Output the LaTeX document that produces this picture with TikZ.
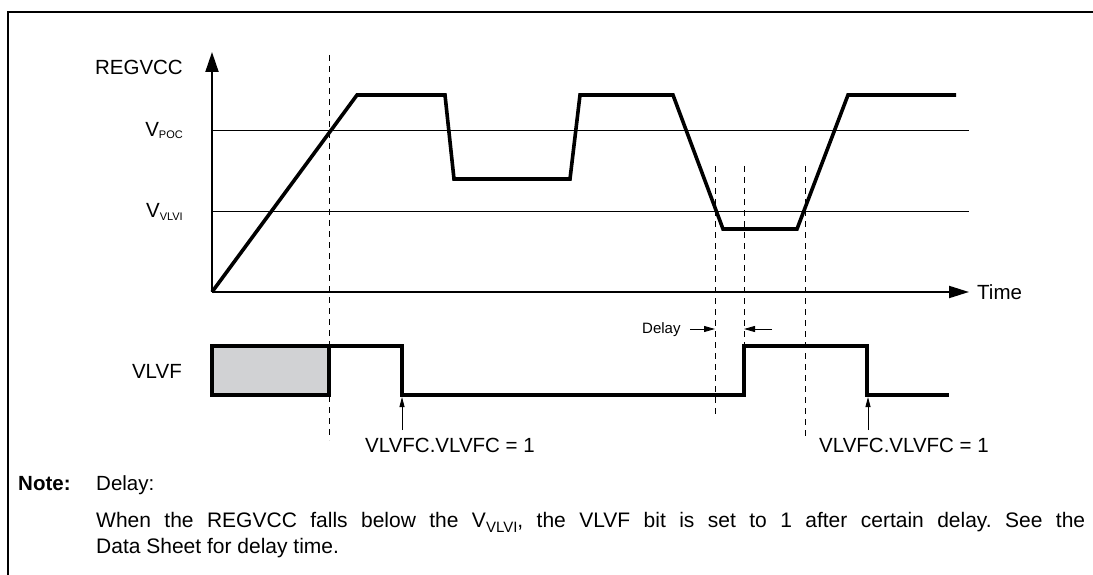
\documentclass[tikz,border=0pt]{standalone}
\usepackage{fontspec}
\setmainfont{Liberation Sans}
\usetikzlibrary{arrows.meta}
\definecolor{vlvfgray}{HTML}{D1D2D4}

\newcommand{\subvolt}[2]{V\raisebox{-#2}{\fontsize{11}{11}\selectfont #1}}

\begin{document}
\frenchspacing
\begin{tikzpicture}[x=1pt, y=-1pt,
        sig/.style={line width=3.6pt, line join=miter},
        lvl/.style={line width=1pt},
        axis/.style={line width=2pt, -{Triangle[length=20pt, width=13pt]}},
        guide/.style={line width=1pt, dash pattern=on 6pt off 5pt},
        ptr/.style={line width=0.9pt, -{Triangle[length=10pt, width=5pt]}},
        lbl/.style={font=\fontsize{20.5}{24}\selectfont, inner sep=0pt},
        notetxt/.style={font=\fontsize{21}{24}\selectfont, inner sep=0pt},
        small/.style={font=\fontsize{15}{18}\selectfont, inner sep=0pt}]
        \useasboundingbox (0,0) rectangle (1093,575);
        % frame
        \draw[line width=2pt] (1093,12) -- (8,12) -- (8,575);
        % axes
        \coordinate (O) at (212,292);
        \coordinate (ytip) at (212,52);
        \coordinate (xtip) at (969,292);
        \draw[axis] (O) -- (ytip);
        \draw[axis, -{Triangle[length=20pt, width=12pt]}] (O) -- (xtip);
        \node[lbl, anchor=east]       (regvcc) at (183,67)  {REGVCC};
        \node[lbl, anchor=base east]  (vpoc)   at (183,137) {\subvolt{POC}{2pt}};
        \node[lbl, anchor=base east]  (vvlvi)  at (183,218) {\subvolt{VLVI}{2pt}};
        \node[lbl, anchor=base west]  (time)   at (977,299) {Time};
        \draw[lvl] (212,131) -- (969,131);
        \draw[lvl] (212,211) -- (969,211);
        % REGVCC waveform
        \draw[sig] (O) -- (357,95) -- (445,95) -- (454,179) -- (570,179) -- (580,95)
              -- (673,95) -- (723,229) -- (797,229) -- (848,95) -- (956,95);
        % guides
        \foreach \gx/\ya/\yb in {329/55/440, 715/166/415, 744/166/346, 805/166/440}
          {\draw[guide] (\gx,\ya) -- (\gx,\yb);}
        % VLVF waveform
        \node[lbl, anchor=base east] (vlvf) at (182,378) {VLVF};
        \draw[sig, fill=vlvfgray] (212,346) rectangle (329,395);
        \draw[sig] (329,346) -- (402,346) -- (402,395) -- (744,395) -- (744,346)
              -- (867,346) -- (867,395) -- (949,395);
        % delay
        \node[small, anchor=base west] (delay) at (642,333) {Delay};
        \coordinate (dl0) at (690,329);
        \coordinate (dl1) at (715,329);
        \coordinate (dl2) at (744,329);
        \coordinate (dl3) at (772,329);
        \draw[ptr, -{Triangle[length=11pt, width=6pt]}] (dl0) -- (dl1);
        \draw[ptr, -{Triangle[length=11pt, width=6pt]}] (dl3) -- (dl2);
        % clear points
        \node[lbl, anchor=base west] (clr1) at (365,452) {VLVFC.VLVFC = 1};
        \node[lbl, anchor=base west] (clr2) at (819,452) {VLVFC.VLVFC = 1};
        \coordinate (fall1) at (402,397);
        \coordinate (fall2) at (868,397);
        \draw[ptr] (402,430) -- (fall1);
        \draw[ptr] (868,430) -- (fall2);
        % note
        \node[lbl, anchor=base west, font=\fontsize{20.5}{24}\selectfont\bfseries] (note) at (18,490) {Note:};
        \node[lbl, anchor=base west] (nl1) at (96,490) {Delay:};
        \node[notetxt, anchor=base west] (nl2) at (96,527) {\makebox[989pt][s]{When the REGVCC falls below the V\raisebox{-5pt}{\fontsize{15}{15}\selectfont VLVI}, the VLVF bit is set to 1 after certain delay. See the}};
        \node[notetxt, anchor=base west] (nl3) at (96,553) {Data Sheet for delay time.};
      \end{tikzpicture}
\end{document}
